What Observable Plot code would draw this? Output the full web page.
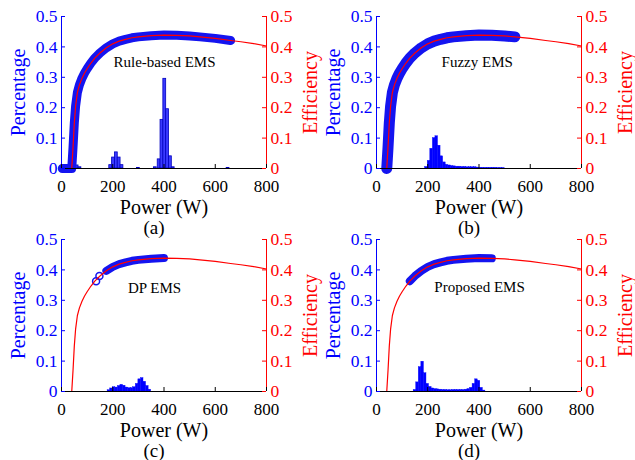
<!DOCTYPE html>
<html><head><meta charset="utf-8">
<script src="https://cdn.jsdelivr.net/npm/d3@7"></script>
<script src="https://cdn.jsdelivr.net/npm/@observablehq/plot@0.6"></script>
<style>
body{margin:0;background:#fff;}
#wrap{position:relative;width:635px;height:460px;overflow:hidden;background:#fff;}
#wrap svg{position:absolute;overflow:visible;font-family:"Liberation Serif",serif;}
#wrap svg text{font-family:"Liberation Serif",serif;}
</style></head><body><div id="wrap"></div>
<script>
// Efficiency curve (red)
const effPower = [40,45,50,55,62,70,80,90,100,115,130,150,175,200,225,250,275,300,350,400,450,500,540,600,660,700,750,800];
const effValue = [0,0.07,0.15,0.205,0.25,0.275,0.297,0.314,0.328,0.347,0.363,0.38,0.397,0.41,0.419,0.425,0.43,0.433,0.437,0.439,0.438,0.436,0.433,0.428,0.421,0.417,0.411,0.403];

const panelLetters = ["(a)","(b)","(c)","(d)"];
const strategyNames = ["Rule-based EMS","Fuzzy EMS","DP EMS","Proposed EMS"];
const nameX = [402,393,363,402];
const nameY = [0.35,0.35,0.34,0.343];

// operating range of each strategy along the efficiency curve (W)
const opStart = [40,40,175,130];
const opEnd = [660,540,400,450];
const idlePower = [3,40];           // rule-based: idle points at zero efficiency
const openCPower = [135,148];       // DP: isolated operating points
const openCEff = [0.363,0.38];

// histograms: bin centers (W) and share of time
const histA_x = [50,61,72,192,203,214,225,236,300,366,381,392,403,414,425,436,650];
const histA_y = [0.008,0.01,0.004,0.011,0.036,0.053,0.036,0.011,0.002,0.004,0.03,0.16,0.295,0.195,0.04,0.004,0.002];
const histB_x = [195,205,215,225,235,245,255,265,275,285,295,305,315,325,335,345,355,365,375,385,395,405,415,425,435,445,455,465,475,485,495];
const histB_y = [0.005,0.025,0.065,0.1,0.106,0.075,0.04,0.02,0.012,0.01,0.008,0.007,0.006,0.006,0.005,0.005,0.004,0.004,0.004,0.004,0.003,0.002,0.002,0.002,0.002,0.002,0.002,0.002,0.001,0.001,0.001];
const histC_x = [185,195,205,215,225,235,245,255,265,275,285,295,305,315,325,335,345];
const histC_y = [0.004,0.01,0.014,0.013,0.018,0.022,0.019,0.013,0.011,0.011,0.014,0.025,0.04,0.044,0.032,0.018,0.006];
const histD_x = [150,160,170,180,190,200,210,220,230,240,250,260,270,280,290,300,310,320,330,340,350,360,370,380,390,400,410,420];
const histD_y = [0.005,0.03,0.08,0.098,0.06,0.025,0.015,0.01,0.008,0.007,0.006,0.005,0.005,0.004,0.004,0.005,0.005,0.005,0.005,0.005,0.006,0.008,0.012,0.025,0.04,0.035,0.012,0.003];
const histX = [histA_x, histB_x, histC_x, histD_x];
const histY = [histA_y, histB_y, histC_y, histD_y];
const binWidth = [11,10,10,10];

const xTicks = [0,200,400,600,800];
const yTicks = [0,0.1,0.2,0.3,0.4,0.5];

const W = 317, H = 232, ML = 61, MR = 51, MT = 16, MB = 64;
const innerW = W - ML - MR, innerH = H - MT - MB;
const panelLeft = [0,315,0,315], panelTop = [0,0,223,223];
const bandWidth = [9,11,8,8];
const font = "Liberation Serif";

const curveAll = effPower.map((p,i)=>({p, e:effValue[i]}));
const wrap = document.getElementById("wrap");

for (let i = 0; i < 4; i++) {
  const hist = histX[i].map((c,j)=>({c, v:histY[i][j]}));
  const bw = binWidth[i];
  let band = curveAll.filter(d => d.p >= opStart[i] && d.p <= opEnd[i]);
  if (i === 0) band = idlePower.map(p=>({p, e:0})).concat(band);
  const openPts = i === 2 ? openCPower.map((p,j)=>({p, e:openCEff[j]})) : [];
  const marks = [
    Plot.rectY(hist, {x1: d=>d.c-bw/2, x2: d=>d.c+bw/2, y: d=>d.v,
      fill: i===0 ? "#3a3aff" : "#0000ff", stroke: i===0 ? "#0000c0" : "#0000ff", strokeWidth: i===0 ? 0.8 : 0.4}),
    Plot.line(band, {x:"p", y:"e", stroke:"#1414f0", strokeWidth: bandWidth[i], strokeLinecap:"round", strokeLinejoin:"round"}),
    Plot.dot(openPts, {x:"p", y:"e", r:3.5, stroke:"#1414f0", strokeWidth:1.5, fill:"none"}),
    Plot.line(curveAll, {x:"p", y:"e", stroke:"#ff0000", strokeWidth:1.2}),
    Plot.ruleY([0], {stroke:"black", strokeWidth:1}),
    Plot.ruleX([0], {stroke:"#0000ff", strokeWidth:1}),
    Plot.ruleX([800], {stroke:"#ff0000", strokeWidth:1}),
    Plot.tickX(xTicks, {x: d=>d, insetTop: innerH-4, stroke:"black"}),
    Plot.tickY(yTicks, {y: d=>d, insetRight: innerW-4, stroke:"#0000ff"}),
    Plot.tickY(yTicks, {y: d=>d, insetLeft: innerW-4, stroke:"#ff0000"}),
    Plot.axisX({ticks:xTicks, tickSize:0, tickPadding:11, fontSize:17, fontFamily:font, color:"black", tickFormat:d=>String(d), label:null}),
    Plot.axisY({anchor:"left", ticks:yTicks, tickSize:0, tickPadding:4, fontSize:17.5, fontFamily:font, color:"#0000ff", tickFormat:d=>String(d), label:null}),
    Plot.axisY({anchor:"right", ticks:yTicks, tickSize:0, tickPadding:4, fontSize:17.5, fontFamily:font, color:"#ff0000", tickFormat:d=>String(d), label:null}),
    Plot.text([strategyNames[i]], {x: nameX[i], y: nameY[i], text: d=>d, fontSize:15, fontFamily:font, fill:"black"}),
    Plot.text(["Power (W)"], {frameAnchor:"bottom", lineAnchor:"middle", textAnchor:"middle", dy:39, text:d=>d, fontSize:20, fontFamily:font, fill:"black"}),
    Plot.text([panelLetters[i]], {frameAnchor:"bottom", lineAnchor:"middle", textAnchor:"middle", dx:-10, dy:59, text:d=>d, fontSize:19, fontFamily:font, fill:"black"}),
    Plot.text(["Percentage"], {frameAnchor:"left", lineAnchor:"middle", textAnchor:"middle", dx:-43, rotate:-90, text:d=>d, fontSize:20, fontFamily:font, fill:"#0000ff"}),
    Plot.text(["Efficiency"], {frameAnchor:"right", lineAnchor:"middle", textAnchor:"middle", dx:44, rotate:-90, text:d=>d, fontSize:20, fontFamily:font, fill:"#ff0000"})
  ];
  const svg = Plot.plot({
    width: W, height: H, marginLeft: ML, marginRight: MR, marginTop: MT, marginBottom: MB,
    x: {domain:[0,800]}, y: {domain:[0,0.5]},
    style: {fontFamily: font, background:"transparent", overflow:"visible"},
    marks
  });
  svg.style.left = panelLeft[i] + "px";
  svg.style.top = panelTop[i] + "px";
  wrap.appendChild(svg);
}
</script></body></html>
